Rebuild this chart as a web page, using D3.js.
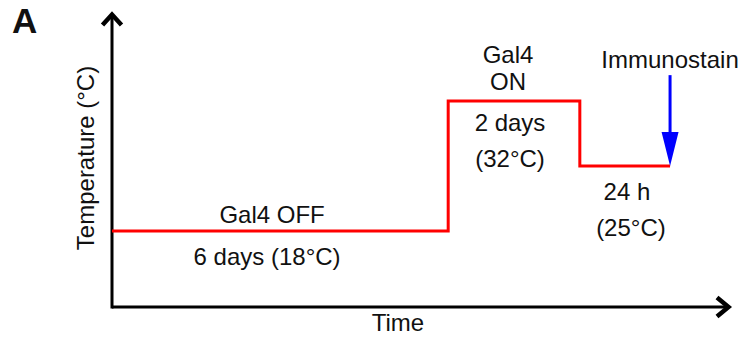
<!DOCTYPE html>
<html>
<head>
<meta charset="utf-8">
<script src="https://cdn.jsdelivr.net/npm/d3@7"></script>
<style>
    body { margin: 0; background: #fff; }
    text { font-family: "Liberation Sans", Arial, sans-serif; fill: #111; }
</style>
</head>
<body>
<svg id="chart" width="744" height="341"></svg>
<script>
// schematic timeline (arbitrary time units) and temperatures (°C)
var phases = ["off", "on", "recover"];
var phaseStart = [0, 5.44, 7.57];
var phaseEnd = [5.44, 7.57, 9.03];
var phaseTemp = [18, 32, 25];
var phaseTitle = [["Gal4 OFF"], ["Gal4", "ON"], []];
var phaseInfo = [["6 days (18°C)"], ["2 days", "(32°C)"], ["24 h", "(25°C)"]];
var stainTime = 9.03;
var stainFrom = 34.8;

var svg = d3.select("#chart");

var x = d3.scaleLinear().domain([0, 10]).range([112, 730]);
var y = d3.scaleLinear().domain([9.8, 41.5]).range([307, 13]);

// axes
svg.append("line")
    .attr("x1", x(0)).attr("x2", x(10) - 3)
    .attr("y1", y(9.8)).attr("y2", y(9.8))
    .attr("stroke", "#000").attr("stroke-width", 3);
svg.append("line")
    .attr("x1", x(0)).attr("x2", x(0))
    .attr("y1", y(9.8) + 1.5).attr("y2", y(41.5) + 3)
    .attr("stroke", "#000").attr("stroke-width", 3);

// chevron arrow heads
svg.append("path")
    .attr("d", "M" + (x(0) - 9.5) + "," + (y(41.5) + 12) + "L" + x(0) + "," + (y(41.5) + 1.5) + "L" + (x(0) + 9.5) + "," + (y(41.5) + 12))
    .attr("fill", "none").attr("stroke", "#000").attr("stroke-width", 4.5);
svg.append("path")
    .attr("d", "M" + (x(10) - 13) + "," + (y(9.8) - 9.5) + "L" + (x(10) - 1.5) + "," + y(9.8) + "L" + (x(10) - 13) + "," + (y(9.8) + 9.5))
    .attr("fill", "none").attr("stroke", "#000").attr("stroke-width", 4.5);

// temperature step line
var pts = [];
phases.forEach(function (p, i) {
    pts.push([phaseStart[i], phaseTemp[i]]);
    pts.push([phaseEnd[i], phaseTemp[i]]);
});
svg.append("path")
    .datum(pts)
    .attr("d", d3.line().x(function (d) { return x(d[0]); }).y(function (d) { return y(d[1]); }))
    .attr("fill", "none").attr("stroke", "#ff0000").attr("stroke-width", 3);

// immunostain arrow
svg.append("line")
    .attr("x1", x(stainTime)).attr("x2", x(stainTime))
    .attr("y1", y(stainFrom)).attr("y2", y(phaseTemp[2]) - 30)
    .attr("stroke", "#0000ff").attr("stroke-width", 3);
svg.append("path")
    .attr("d", "M" + (x(stainTime) - 8.5) + "," + (y(phaseTemp[2]) - 34) + "L" + (x(stainTime) + 8.5) + "," + (y(phaseTemp[2]) - 34) + "L" + x(stainTime) + "," + y(phaseTemp[2]) + "Z")
    .attr("fill", "#0000ff");

// labels
var fs = 24;
var titleBase = [223, 63, 0];
var infoBase = [265, 131, 200];
var titleShift = [-8, -6, 0];
var infoShift = [-13, -4, 2];
phases.forEach(function (p, i) {
    var cx = (x(phaseStart[i]) + x(phaseEnd[i])) / 2;
    phaseTitle[i].forEach(function (t, j) {
        svg.append("text").attr("x", cx + titleShift[i]).attr("y", titleBase[i] + j * 27)
            .attr("text-anchor", "middle").attr("font-size", fs).text(t);
    });
    phaseInfo[i].forEach(function (t, j) {
        svg.append("text").attr("x", cx + infoShift[i] + (i === 2 ? j * 4 : 0)).attr("y", infoBase[i] + j * 36)
            .attr("text-anchor", "middle").attr("font-size", fs).text(t);
    });
});

svg.append("text").attr("x", x(stainTime)).attr("y", 68)
    .attr("text-anchor", "middle").attr("font-size", fs).text("Immunostain");

svg.append("text").attr("x", 398).attr("y", 331)
    .attr("text-anchor", "middle").attr("font-size", fs).text("Time");

svg.append("text")
    .attr("transform", "translate(94,158) rotate(-90)")
    .attr("text-anchor", "middle").attr("font-size", fs).text("Temperature (°C)");

svg.append("text").attr("x", 12).attr("y", 33)
    .attr("font-size", 35).attr("font-weight", "bold").text("A");
</script>
</body>
</html>
